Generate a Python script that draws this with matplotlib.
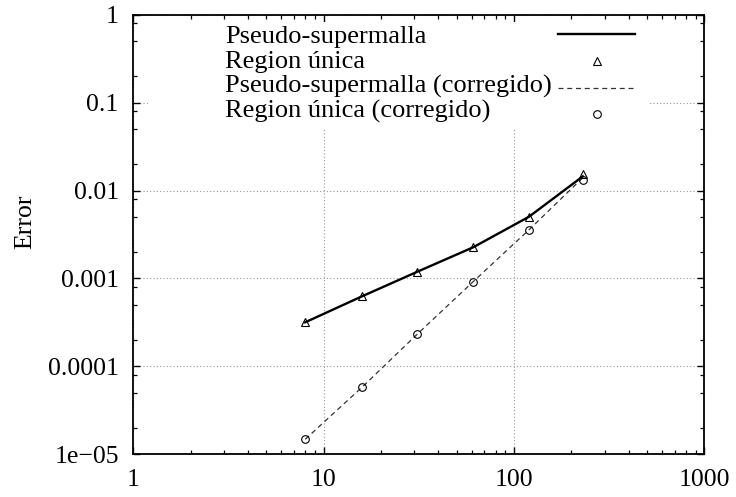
import matplotlib
matplotlib.use("Agg")
import matplotlib.pyplot as plt
from matplotlib.ticker import LogLocator, NullFormatter, FixedLocator, FixedFormatter
from matplotlib.patches import Rectangle

# Data
x_vals = [8, 16, 31, 61, 120, 230]
err_pseudo = [3.17e-4, 6.3e-4, 1.19e-3, 2.26e-3, 5.04e-3, 1.45e-2]
err_region = [3.17e-4, 6.3e-4, 1.19e-3, 2.26e-3, 5.04e-3, 1.54e-2]
err_pseudo_corr = [1.48e-5, 5.86e-5, 2.32e-4, 9.18e-4, 3.58e-3, 1.40e-2]
err_region_corr = [1.48e-5, 5.86e-5, 2.32e-4, 9.18e-4, 3.58e-3, 1.31e-2]

labels = ["Pseudo-supermalla", "Region única",
          "Pseudo-supermalla (corregido)", "Region única (corregido)"]
xticks = [1, 10, 100, 1000]
xticklabels = ["1", "10", "100", "1000"]
yticks = [1e-5, 1e-4, 1e-3, 1e-2, 1e-1, 1]
yticklabels = ["1e\u221205", "0.0001", "0.001", "0.01", "0.1", "1"]

plt.rcParams['font.family'] = ['Liberation Serif', 'DejaVu Serif']

W, H = 736, 497
fig = plt.figure(figsize=(W / 100, H / 100), dpi=100)
L, R, T, B = 133.3, 704.3, 14.7, 454.3
ax = fig.add_axes([L / W, 1 - B / H, (R - L) / W, (B - T) / H])

ax.set_xscale('log')
ax.set_yscale('log')
ax.set_xlim(1, 1000)
ax.set_ylim(1e-5, 1)

ax.set_axisbelow(True)
ax.grid(True, which='major', color='#999999', linestyle=(0, (1, 2)), linewidth=0.8)

h1, = ax.plot(x_vals, err_pseudo, color='black', linewidth=1.7, zorder=3)
h2, = ax.plot(x_vals, err_region, linestyle='none', marker='^', markersize=6,
              markerfacecolor='none', markeredgecolor='black', markeredgewidth=0.8,
              zorder=4)
h3, = ax.plot(x_vals, err_pseudo_corr, color='#333333', linewidth=0.9,
              linestyle=(0, (4, 3)), zorder=3)
h4, = ax.plot(x_vals, err_region_corr, linestyle='none', marker='o', markersize=5.5,
              markerfacecolor='none', markeredgecolor='black', markeredgewidth=0.8,
              zorder=4)
handles = [h1, h2, h3, h4]

# White key box (hides the grid behind the legend)
ax.add_patch(Rectangle(((150 - L) / (R - L), (B - 128) / (B - T)),
                       (650 - 150) / (R - L), (128 - 22) / (B - T),
                       transform=ax.transAxes, facecolor='white',
                       edgecolor='none', zorder=1))

ax.xaxis.set_major_locator(FixedLocator(xticks))
ax.xaxis.set_major_formatter(FixedFormatter(xticklabels))
ax.xaxis.set_minor_locator(LogLocator(base=10, subs=range(2, 10), numticks=20))
ax.xaxis.set_minor_formatter(NullFormatter())
ax.yaxis.set_major_locator(FixedLocator(yticks))
ax.yaxis.set_major_formatter(FixedFormatter(yticklabels))
ax.yaxis.set_minor_locator(LogLocator(base=10, subs=[2, 5, 8], numticks=20))
ax.yaxis.set_minor_formatter(NullFormatter())

ax.tick_params(which='both', direction='in', top=True, right=True,
               labelsize=18.5, pad=10.5, color='black')
ax.tick_params(which='major', length=5, width=1.0)
ax.tick_params(which='minor', length=3, width=0.9)
for s in ax.spines.values():
    s.set_linewidth(1.3)

ax.set_ylabel("Error", fontsize=18.5)
ax.yaxis.set_label_coords((36 - L) / (R - L), (B - 222) / (B - T))

top_y = (B - 25) / (B - T)
common = dict(frameon=False, fontsize=19, borderpad=0, borderaxespad=0)
# Text column (left aligned)
leg_text = ax.legend(handles, labels, loc='upper left',
                     bbox_to_anchor=((225 - L) / (R - L), top_y),
                     handlelength=0, handletextpad=0, labelspacing=0.04,
                     **common)
for hdl in leg_text.legend_handles:
    hdl.set_visible(False)
leg_text.set_zorder(5)
ax.add_artist(leg_text)
# Sample column (right side)
leg_samp = ax.legend(handles, [" "] * 4, loc='upper right',
                     bbox_to_anchor=((635 - L) / (R - L), top_y),
                     markerfirst=False, handlelength=2.9, handletextpad=0,
                     labelspacing=0.12, **common)
leg_samp.set_zorder(5)

fig.savefig("out.png", dpi=100)
